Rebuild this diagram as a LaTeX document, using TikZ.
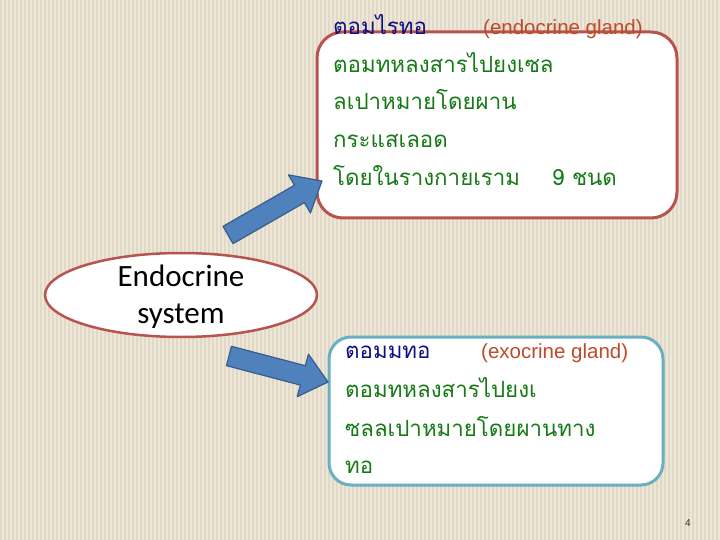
\documentclass[tikz,border=0pt]{standalone}
\usepackage{fontspec}
\setmainfont{Liberation Sans}
\newfontfamily\thaifont[Script=Thai]{Loma}
\newfontfamily\calfont{Carlito}
\usetikzlibrary{calc,shapes.geometric}
\definecolor{bgbase}{HTML}{ECE7D9}
\definecolor{bgstripe}{HTML}{E1D9C5}
\definecolor{boxred}{HTML}{B85450}
\definecolor{boxteal}{HTML}{6AAFC2}
\definecolor{navytxt}{HTML}{101080}
\definecolor{greentxt}{HTML}{167A16}
\definecolor{redtxt}{HTML}{BE4A2A}
\definecolor{arrowfill}{HTML}{4F81BD}
\definecolor{arrowline}{HTML}{385D8A}
\tikzset{
  thaitxt/.style={anchor=base west, inner sep=0pt, font=\thaifont\fontsize{22.3}{25}\selectfont},
  greenline/.style={thaitxt, text=greentxt},
  titleline/.style={thaitxt, text=navytxt},
  engtxt/.style={anchor=base west, inner sep=0pt, text=redtxt, font=\fontsize{20.5}{23}\selectfont},
  blockarrow/.style={fill=arrowfill, draw=arrowline, line width=1.2pt, line join=round},
}
\begin{document}
\begin{tikzpicture}[x=1pt,y=-1pt]
\useasboundingbox (0,0) rectangle (720,540);
% background
\fill[bgbase] (0,0) rectangle (720,540);
\foreach \i in {0,4,...,720} {\fill[bgstripe] (\i,0) rectangle (\i+1.6,540);}

% top box
\draw[boxred, line width=3pt, fill=white, rounded corners=26pt] (317,32) rectangle (677,218);
\node[titleline] (t0) at (333,35) {ตอมไรทอ};
\node[engtxt] (e0) at (483,35) {(endocrine gland)};
\node[greenline] (t1) at (333,73) {ตอมทหลงสารไปยงเซล};
\node[greenline] (t2) at (333,110) {ลเปาหมายโดยผาน};
\node[greenline] (t3) at (333,148) {กระแสเลอด};
\node[greenline] (t4) at (333,186) {โดยในรางกายเราม};
\node[greenline] (t5) at (552,186) {9 ชนด};

% bottom box
\draw[boxteal, line width=3pt, fill=white, rounded corners=22pt] (329,337) rectangle (663,485);
\node[titleline] (b0) at (345,358) {ตอมมทอ};
\node[engtxt] (f0) at (481,358) {(exocrine gland)};
\node[greenline] (b1) at (345,397) {ตอมทหลงสารไปยงเ};
\node[greenline] (b2) at (345,436) {ซลลเปาหมายโดยผานทาง};
\node[greenline] (b3) at (345,473) {ทอ};

% ellipse
\node[draw=boxred, line width=2.5pt, fill=white, ellipse, minimum width=272pt, minimum height=84pt, inner sep=0pt] (es) at (181,295) {};
\node[font=\calfont\fontsize{31}{37}\selectfont, align=center, inner sep=0pt] (et) at (181,297) {Endocrine\\system};

% arrows
\coordinate (a1t) at (228,235);
\coordinate (a1h) at (322,181);
\coordinate (a1b) at ($(a1h)!26pt!(a1t)$);
\draw[blockarrow] ($(a1t)!10pt!90:(a1h)$) -- ($(a1b)!10pt!90:(a1h)$) -- ($(a1b)!22pt!90:(a1h)$) -- (a1h) -- ($(a1b)!22pt!-90:(a1h)$) -- ($(a1b)!10pt!-90:(a1h)$) -- ($(a1t)!10pt!-90:(a1h)$) -- cycle;

\coordinate (a2t) at (229,356);
\coordinate (a2h) at (328,382);
\coordinate (a2b) at ($(a2h)!26pt!(a2t)$);
\draw[blockarrow] ($(a2t)!10pt!90:(a2h)$) -- ($(a2b)!10pt!90:(a2h)$) -- ($(a2b)!22pt!90:(a2h)$) -- (a2h) -- ($(a2b)!22pt!-90:(a2h)$) -- ($(a2b)!10pt!-90:(a2h)$) -- ($(a2t)!10pt!-90:(a2h)$) -- cycle;

% page number
\node[font=\fontsize{10}{12}\selectfont, text=black!80, inner sep=0pt] (pn) at (688,523) {4};
\end{tikzpicture}
\end{document}
